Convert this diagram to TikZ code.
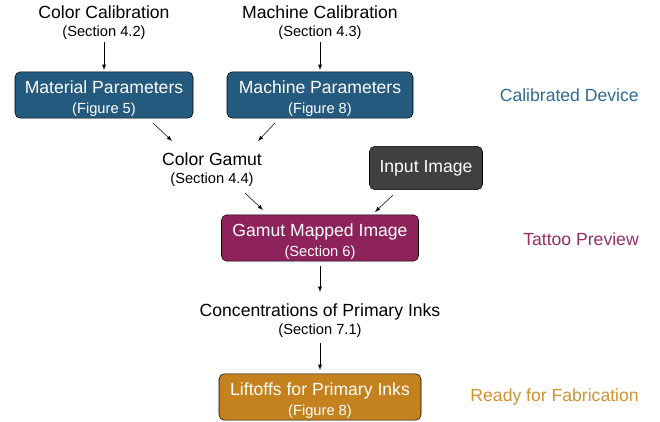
\documentclass[tikz,border=0pt]{standalone}
\usepackage{fontspec}
\setmainfont{Liberation Sans}
\usetikzlibrary{arrows}
\usetikzlibrary{calc}
\definecolor{devblue}{RGB}{36,90,126}
\definecolor{prevred}{RGB}{142,34,90}
\definecolor{fabbrown}{RGB}{196,130,30}
\definecolor{imggray}{RGB}{64,64,64}
\definecolor{devtext}{RGB}{46,106,148}
\definecolor{prevtext}{RGB}{155,44,98}
\definecolor{fabtext}{RGB}{208,145,50}
\newcommand{\mainsize}{\fontsize{13.2}{17}\selectfont}
\newcommand{\subline}[1]{\\[-3.5pt]{\fontsize{11}{13}\selectfont #1}}
\newcommand{\boxsub}[1]{\\[-2pt]{\fontsize{11}{13}\selectfont #1}}
\newcommand{\boxstrut}{\rule{0pt}{15.5pt}}

\begin{document}
\begin{tikzpicture}
	[x=0.75pt,y=-0.75pt,
	box/.style={rectangle,rounded corners=4pt,draw=black,thin,text=white,minimum height=32.5pt,align=center,inner sep=1pt,font=\mainsize},
	txt/.style={align=center,inner sep=0pt,font=\mainsize},
	stage/.style={anchor=east,inner sep=0pt,font=\mainsize},
	arr/.style={-latex,thin}]
	\useasboundingbox (0,0) rectangle (660,421);
	
	% calibration steps
	\node[txt] (calcol) at (104,22.5) {Color Calibration\subline{(Section 4.2)}};
	\node[txt] (calmac) at (320,22.5) {Machine Calibration\subline{(Section 4.3)}};
	\node[box,fill=devblue,minimum width=133.5pt] (matpar) at (104,95) {\boxstrut Material Parameters\boxsub{(Figure 5)}};
	\node[box,fill=devblue,minimum width=139.5pt] (macpar) at (320,95) {\boxstrut Machine Parameters\boxsub{(Figure 8)}};
	
	% preview
	\node[txt] (gamut) at (212,169.5) {Color Gamut\subline{(Section 4.4)}};
	\node[box,fill=imggray,minimum width=84.75pt] (input) at (426,168) {Input Image};
	\node[box,fill=prevred,minimum width=147.75pt] (mapped) at (320,238) {\boxstrut Gamut Mapped Image\boxsub{(Section 6)}};
	
	% fabrication
	\node[txt] (conc) at (320,320.5) {Concentrations of Primary Inks\subline{(Section 7.1)}};
	\node[box,fill=fabbrown,minimum width=151.5pt] (lift) at (320,397) {\boxstrut Liftoffs for Primary Inks\boxsub{(Figure 8)}};
	
	\node[stage,text=devtext] (devlab) at (639,95) {Calibrated Device};
	\node[stage,text=prevtext] (prevlab) at (639,239) {Tattoo Preview};
	\node[stage,text=fabtext] (fablab) at (639,397) {Ready for Fabrication};
	
	\draw[arr] ($(calcol)+(0,19.5)$) -- ($(matpar)+(0,-25)$);
	\draw[arr] ($(calmac)+(0,19.5)$) -- ($(macpar)+(0,-25)$);
	\draw[arr] ($(matpar)+(49,28)$) -- ($(gamut)+(-40,-28.5)$);
	\draw[arr] ($(macpar)+(-45,28)$) -- ($(gamut)+(46,-28.5)$);
	\draw[arr] ($(gamut)+(33,23.5)$) -- ($(mapped)+(-57,-28)$);
	\draw[arr] ($(input)+(-33,27)$) -- ($(mapped)+(55,-26)$);
	\draw[arr] ($(mapped)+(0,28)$) -- ($(conc)+(0,-28.5)$);
	\draw[arr] ($(conc)+(0,22.5)$) -- ($(lift)+(0,-27)$);
	
\end{tikzpicture}
\end{document}
